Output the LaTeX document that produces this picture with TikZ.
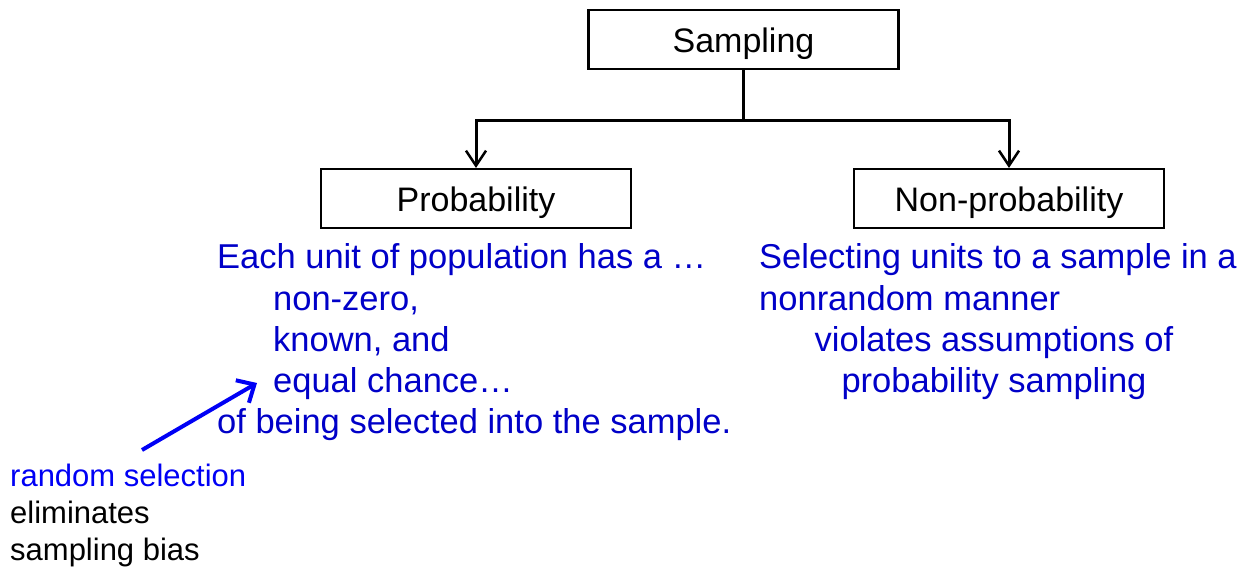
\documentclass[tikz,border=0pt]{standalone}
\usepackage{fontspec}
\setmainfont{Liberation Sans}
\usetikzlibrary{arrows.meta}
\definecolor{txtblue}{RGB}{0,0,200}
\definecolor{brightblue}{RGB}{0,0,245}
\begin{document}
\begin{tikzpicture}[x=1pt,y=-1pt,
  box/.style={draw,line width=2.2pt,minimum width=310pt,minimum height=59pt,inner sep=0pt,text height=27pt,text depth=0pt,font=\fontsize{34}{40}\selectfont},
  bluetext/.style={anchor=base west,inner sep=0pt,text=txtblue,font=\fontsize{34.5}{40}\selectfont},
  bluecenter/.style={bluetext,anchor=base},
  note/.style={anchor=base west,inner sep=0pt,font=\fontsize{31}{37}\selectfont},
  conn/.style={line width=3pt},
  downarrow/.style={conn,-{Straight Barb[length=15pt,width=20pt,line width=2.5pt]}}
  ]
\useasboundingbox (0,0) rectangle (1239,569);
\node[box] (samp) at (743.5,39.5) {Sampling};
\node[box] (prob) at (476,198.5) {Probability};
\node[box] (nonp) at (1009,198.5) {Non-probability};
\draw[conn] (samp.south) -- ++(0,50) coordinate (junc);
\draw[downarrow] (junc) -| (prob.north);
\draw[downarrow] (junc) -| (nonp.north);
% left text
\node[bluetext] (l1) at (217,269) {Each unit of population has a …};
\node[bluetext] (l2) at (273,310) {non-zero,};
\node[bluetext] (l3) at (273,351) {known, and};
\node[bluetext] (l4) at (273,392) {equal chance…};
\node[bluetext] (l5) at (217,433) {of being selected into the sample.};
% right text
\node[bluetext] (r1) at (759,269) {Selecting units to a sample in a};
\node[bluetext] (r2) at (759,310) {nonrandom manner};
\node[bluecenter] (r3) at (994,351) {violates assumptions of};
\node[bluecenter] (r4) at (994,392) {probability sampling};
% note
\node[note,text=brightblue] (n1) at (10,486) {random selection};
\node[note] (n2) at (10,523) {eliminates};
\node[note] (n3) at (10,560) {sampling bias};
\coordinate (atail) at (142,450);
\coordinate (ahead) at (257,383);
\draw[brightblue,line width=4pt,-{Straight Barb[length=14pt,width=26pt,line width=4pt]}] (atail) -- (ahead);
\end{tikzpicture}
\end{document}
